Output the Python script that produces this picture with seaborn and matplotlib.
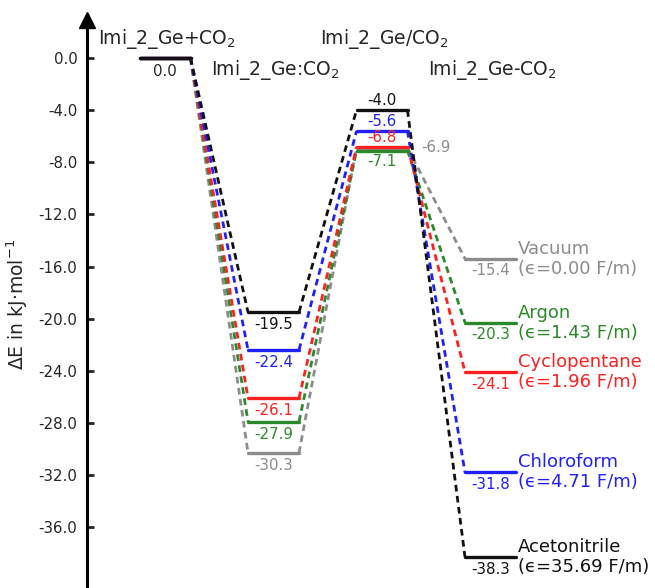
import pandas as pd
import matplotlib.pyplot as plt
import seaborn as sns

sns.set_theme(style="white")
plt.rcParams['font.family'] = ['DejaVu Sans']

# Data (kJ/mol)
states = ['Imi_2_Ge+CO$_2$', 'Imi_2_Ge:CO$_2$', 'Imi_2_Ge/CO$_2$', 'Imi_2_Ge-CO$_2$']
solvents = ['Vacuum', 'Argon', 'Cyclopentane', 'Chloroform', 'Acetonitrile']
epsilon = [0.00, 1.43, 1.96, 4.71, 35.69]
reactant = [0.0, 0.0, 0.0, 0.0, 0.0]
intermediate = [-30.3, -27.9, -26.1, -22.4, -19.5]
transition = [-6.9, -7.1, -6.8, -5.6, -4.0]
product = [-15.4, -20.3, -24.1, -31.8, -38.3]
yticks = [0, -4, -8, -12, -16, -20, -24, -28, -32, -36]

colors = {'Vacuum': '#8c8c8c', 'Argon': '#2a8a2a', 'Cyclopentane': '#ff2020',
          'Chloroform': '#2020ff', 'Acetonitrile': '#111111'}

w = 0.235
energies = {s: [reactant[i], intermediate[i], transition[i], product[i]]
            for i, s in enumerate(solvents)}

# long-form tables for levels and connectors
lev_rows, con_rows = [], []
for s in solvents:
    e = energies[s]
    for k in range(4):
        lev_rows.append({'solvent': s, 'seg': k, 'x': k - w, 'E': e[k]})
        lev_rows.append({'solvent': s, 'seg': k, 'x': k + w, 'E': e[k]})
    for k in range(3):
        con_rows.append({'solvent': s, 'seg': k, 'x': k + w, 'E': e[k]})
        con_rows.append({'solvent': s, 'seg': k, 'x': k + 1 - w, 'E': e[k + 1]})
levels = pd.DataFrame(lev_rows)
connectors = pd.DataFrame(con_rows)

fig = plt.figure(figsize=(6.55, 5.88), dpi=100)
ax = fig.add_axes([87 / 655, 0, 1 - 87 / 655, 568 / 588])

sns.lineplot(data=connectors, x='x', y='E', hue='solvent', units='seg',
             estimator=None, sort=False, palette=colors, hue_order=solvents,
             linestyle=(0, (2.4, 1.6)), linewidth=2.0, legend=False, ax=ax)
sns.lineplot(data=levels, x='x', y='E', hue='solvent', units='seg',
             estimator=None, sort=False, palette=colors, hue_order=solvents,
             linewidth=2.4, legend=False, ax=ax)

txt = '#262626'
vfs = 10.8

# value labels
ax.text(0, reactant[-1] - 0.45, f"{reactant[-1]:.1f}", ha='center', va='top',
        fontsize=vfs, color=txt)
for i, s in enumerate(solvents):
    c = colors[s]
    ax.text(1, intermediate[i] - 0.4, f"{intermediate[i]:.1f}", ha='center',
            va='top', fontsize=vfs, color=c)
    ax.text(3, product[i] - 0.35, f"{product[i]:.1f}", ha='center',
            va='top', fontsize=vfs, color=c)
    ax.text(3 + w + 0.02, product[i], f"{s}\n(\u03f5={epsilon[i]:.2f} F/m)",
            ha='left', va='center', fontsize=13, color=c, linespacing=1.15)
    if s == 'Vacuum':
        ax.text(2 + w + 0.13, transition[i], f"{transition[i]:.1f}", ha='left',
                va='center', fontsize=vfs, color=c)
    elif s == 'Argon':
        ax.text(2, transition[i] - 0.3, f"{transition[i]:.1f}", ha='center',
                va='top', fontsize=vfs, color=c)
    else:
        ax.text(2, transition[i] + 0.15, f"{transition[i]:.1f}", ha='center',
                va='bottom', fontsize=vfs, color=c)

# state names
name_y = [1.5, -0.95, 1.5, -0.95]
for k, name in enumerate(states):
    ax.text(k + 0.02, name_y[k], name, ha='center', va='center', fontsize=13.5,
            color=txt)

ax.set_xlim(-0.719, 4.516)
ax.set_ylim(-40.67, 2.92)
ax.set_yticks(yticks)
ax.set_yticklabels([f"{v:.1f}" for v in yticks])
ax.set_xticks([])
ax.set_xlabel('')
ax.set_ylabel('ΔE in kJ·mol$^{-1}$', fontsize=13.5, color=txt, labelpad=6)
for side in ['top', 'right', 'bottom']:
    ax.spines[side].set_visible(False)
ax.spines['left'].set_linewidth(2.2)
ax.spines['left'].set_color('black')
ax.tick_params(axis='y', direction='in', length=5, width=2, pad=7,
               labelsize=10.8, labelcolor=txt, left=True)
ax.plot(0, 1, marker='^', color='black', markersize=12, transform=ax.transAxes,
        clip_on=False)

fig.savefig('out.png', dpi=100)
